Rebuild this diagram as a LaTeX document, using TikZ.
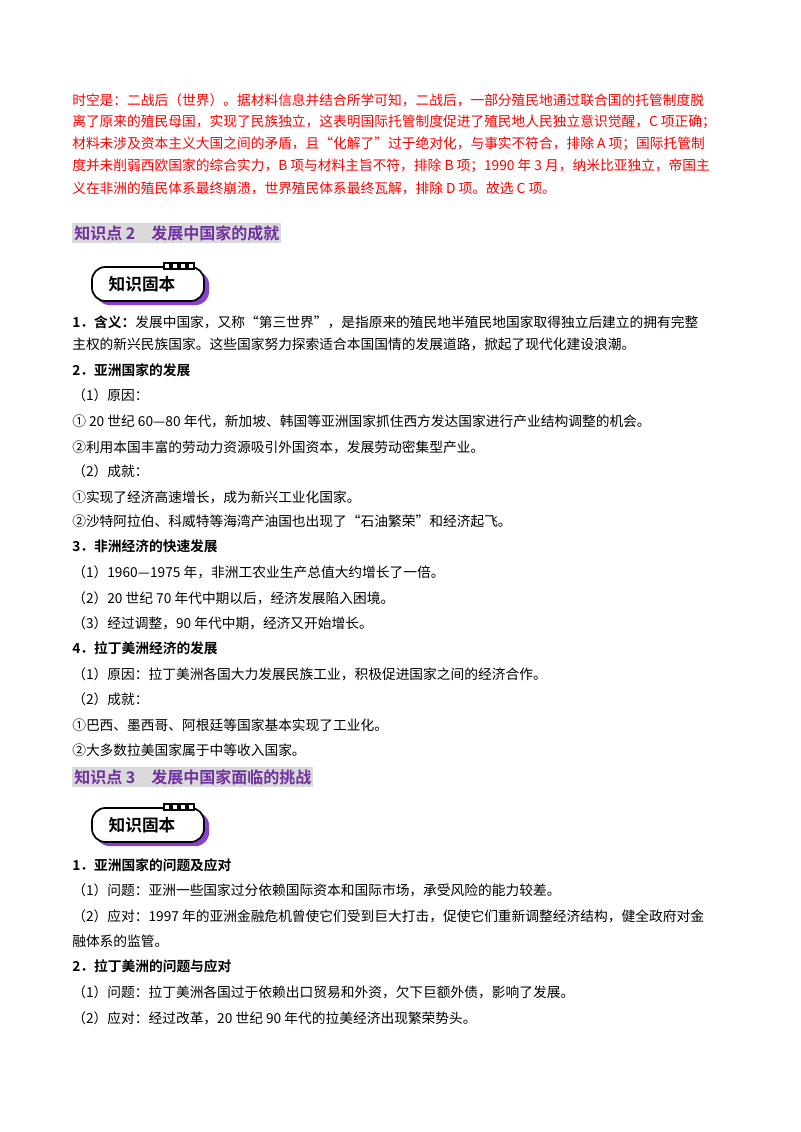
\documentclass[tikz,border=0pt]{standalone}
\usepackage{fontspec}
\setmainfont{Noto Sans CJK SC}[BoldFont={Noto Sans CJK SC Bold}]
\definecolor{redt}{HTML}{FF0000}
\definecolor{purp}{HTML}{7030A0}
\definecolor{hl}{HTML}{D9D9D9}
\definecolor{bpurp}{HTML}{8A3FD1}
\begin{document}
\begin{tikzpicture}[x=0.75pt,y=-0.75pt,
  t/.style={anchor=west,inner sep=0pt,font=\fontsize{10.3}{12}\selectfont},
  r/.style={t,text=redt},
  b/.style={t,font=\fontsize{10.3}{12}\selectfont\bfseries},
  hd/.style={anchor=west,inner sep=1.5pt,fill=hl,text=purp,font=\fontsize{12}{14}\selectfont\bfseries}]
\useasboundingbox (0,0) rectangle (800,1132);
\fill[white] (0,0) rectangle (800,1132);
% red paragraph
\node[r] (r1) at (72,100) {时空是：二战后（世界）。据材料信息并结合所学可知，二战后，一部分殖民地通过联合国的托管制度脱};
\node[r] (r2) at (72,122) {离了原来的殖民母国，实现了民族独立，这表明国际托管制度促进了殖民地人民独立意识觉醒，C 项正确；};
\node[r] (r3) at (72,144) {材料未涉及资本主义大国之间的矛盾，且“化解了”过于绝对化，与事实不符合，排除 A 项；国际托管制};
\node[r] (r4) at (72,166) {度并未削弱西欧国家的综合实力，B 项与材料主旨不符，排除 B 项；1990 年 3 月，纳米比亚独立，帝国主};
\node[r] (r5) at (72,188) {义在非洲的殖民体系最终崩溃，世界殖民体系最终瓦解，排除 D 项。故选 C 项。};
% header 2
\node[hd] (h2) at (72,233) {知识点 2\quad 发展中国家的成就};
% badge
\tikzset{badge/.pic={
  \fill[bpurp,rounded corners=10] (4,4) rectangle (117,38);
  \draw[line width=1.3pt,fill=white,rounded corners=10] (0,0) rectangle (112,34);
  \foreach \i in {0,1,2,3}{\draw[line width=0.8pt,fill=white] (72+\i*8,-4) rectangle +(6,6);}
  \node[font=\fontsize{12.5}{14}\selectfont\bfseries] (-lbl) at (50,17) {知识固本};
}}
\pic (k1) at (92,267) {badge};
\node[b] (a1) at (72,322) {1．含义：\mdseries 发展中国家，又称“第三世界”，是指原来的殖民地半殖民地国家取得独立后建立的拥有完整};
\node[t] (a2) at (72,344) {主权的新兴民族国家。这些国家努力探索适合本国国情的发展道路，掀起了现代化建设浪潮。};
\node[b] (a3) at (72,370) {2．亚洲国家的发展};
\node[t] (a4) at (72,395) {（1）原因：};
\node[t] (a5) at (72,421) {① 20 世纪 60—80 年代，新加坡、韩国等亚洲国家抓住西方发达国家进行产业结构调整的机会。};
\node[t] (a6) at (72,447) {②利用本国丰富的劳动力资源吸引外国资本，发展劳动密集型产业。};
\node[t] (a7) at (72,471) {（2）成就：};
\node[t] (a8) at (72,497) {①实现了经济高速增长，成为新兴工业化国家。};
\node[t] (a9) at (72,521) {②沙特阿拉伯、科威特等海湾产油国也出现了“石油繁荣”和经济起飞。};
\node[b] (a10) at (72,546) {3．非洲经济的快速发展};
\node[t] (a11) at (72,572) {（1）1960—1975 年，非洲工农业生产总值大约增长了一倍。};
\node[t] (a12) at (72,598) {（2）20 世纪 70 年代中期以后，经济发展陷入困境。};
\node[t] (a13) at (72,623) {（3）经过调整，90 年代中期，经济又开始增长。};
\node[b] (a14) at (72,648) {4．拉丁美洲经济的发展};
\node[t] (a15) at (72,674) {（1）原因：拉丁美洲各国大力发展民族工业，积极促进国家之间的经济合作。};
\node[t] (a16) at (72,699) {（2）成就：};
\node[t] (a17) at (72,725) {①巴西、墨西哥、阿根廷等国家基本实现了工业化。};
\node[t] (a18) at (72,750) {②大多数拉美国家属于中等收入国家。};
% header 3
\node[hd] (h3) at (72,777) {知识点 3\quad 发展中国家面临的挑战};
\pic (k2) at (92,808) {badge};
\node[b] (c1) at (72,865) {1．亚洲国家的问题及应对};
\node[t] (c2) at (72,890) {（1）问题：亚洲一些国家过分依赖国际资本和国际市场，承受风险的能力较差。};
\node[t] (c3) at (72,916) {（2）应对：1997 年的亚洲金融危机曾使它们受到巨大打击，促使它们重新调整经济结构，健全政府对金};
\node[t] (c4) at (72,941) {融体系的监管。};
\node[b] (c5) at (72,966) {2．拉丁美洲的问题与应对};
\node[t] (c6) at (72,992) {（1）问题：拉丁美洲各国过于依赖出口贸易和外资，欠下巨额外债，影响了发展。};
\node[t] (c7) at (72,1018) {（2）应对：经过改革，20 世纪 90 年代的拉美经济出现繁荣势头。};
\end{tikzpicture}
\end{document}
